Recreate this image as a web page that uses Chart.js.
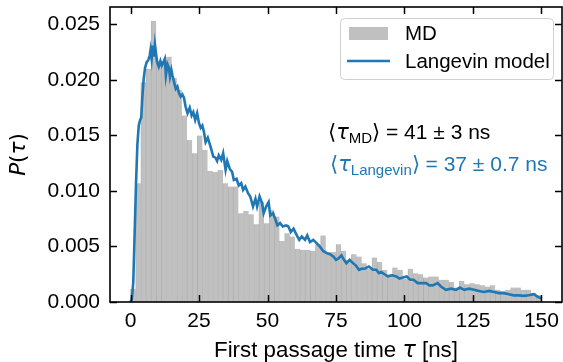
<!DOCTYPE html>
<html><head><meta charset="utf-8">
<script src="https://cdn.jsdelivr.net/npm/chart.js@4/dist/chart.umd.min.js"></script>
<style>html,body{margin:0;padding:0;background:#fff}#wrap{width:563px;height:362px;position:relative}</style>
</head><body><div id="wrap"><canvas id="c" width="563" height="362"></canvas></div>
<script>
// ---- data ----
const binCenters = [0.9375,2.8125,4.6875,6.5625,8.4375,10.3125,12.1875,14.0625,15.9375,17.8125,
19.6875,21.5625,23.4375,25.3125,27.1875,29.0625,30.9375,32.8125,34.6875,36.5625,
38.4375,40.3125,42.1875,44.0625,45.9375,47.8125,49.6875,51.5625,53.4375,55.3125,
57.1875,59.0625,60.9375,62.8125,64.6875,66.5625,68.4375,70.3125,72.1875,74.0625,
75.9375,77.8125,79.6875,81.5625,83.4375,85.3125,87.1875,89.0625,90.9375,92.8125,
94.6875,96.5625,98.4375,100.3125,102.1875,104.0625,105.9375,107.8125,109.6875,111.5625,
113.4375,115.3125,117.1875,119.0625,120.9375,122.8125,124.6875,126.5625,128.4375,130.3125,
132.1875,134.0625,135.9375,137.8125,139.6875,141.5625,143.4375,145.3125,147.1875,149.0625];
const mdValues = [0.0012,0.0107,0.0198,0.0210,0.0253,0.0217,0.0217,0.0221,0.0202,0.0191,
0.0168,0.0146,0.0134,0.0150,0.0137,0.0118,0.0117,0.0119,0.0107,0.0104,
0.0104,0.0080,0.0082,0.0079,0.0070,0.0090,0.0071,0.0083,0.0077,0.0055,
0.0062,0.0059,0.0048,0.0047,0.0047,0.0046,0.0052,0.0060,0.0045,0.0045,
0.0052,0.0046,0.0038,0.0043,0.0041,0.0035,0.0030,0.0040,0.0036,0.0029,
0.0025,0.0031,0.0029,0.0021,0.0030,0.0026,0.0025,0.0022,0.0023,0.0023,
0.0020,0.0020,0.0018,0.0013,0.0019,0.0016,0.0017,0.0016,0.0015,0.0014,
0.0015,0.0011,0.0010,0.0011,0.0013,0.0013,0.0011,0.0011,0.0008,0.0006];
const langevinTau = [0,0.5,1.0,1.5,2.0,2.5,3.0,3.5,3.9,4.3,4.8,5.3,5.9,6.5,7.0,7.3,7.7,8.1,8.5,8.9,9.3,9.7,
10.3,10.9,11.4,12.0,12.5,12.9,13.5,14.0,14.4,14.9,15.3,15.9,16.5,17.1,17.7,18.3,18.9,19.5,
20.1,20.8,21.6,22.3,22.9,23.6,24.3,25.0,25.6,26.2,26.8,27.4,28.2,29.2,30.2,31.0,31.6,32.2,33.1,33.8,
34.7,35.3,36.2,37.1,37.7,38.7,39.5,40.4,41.1,41.9,42.9,43.7,44.7,45.6,46.2,47.1,48.0,48.6,49.5,
50.4,51.0,52.0,52.8,53.6,54.6,55.6,56.8,57.6,58.5,59.5,60.7,61.6,62.5,63.7,64.5,65.5,66.7,67.9,
69.1,70.3,71.6,72.8,74.0,75.0,75.8,77.0,77.9,78.8,80.0,81.2,82.2,83.4,84.3,85.5,87.0,88.5,89.7,
90.7,91.5,92.7,93.9,95.5,97.0,98.2,99.4,100.8,102.1,103.3,104.8,106.6,107.9,109.1,110.3,112.1,
113.3,115.1,117.0,118.8,120.2,121.8,123.6,125.4,127.2,129.0,130.9,132.7,134.5,136.3,138.1,139.9,
141.7,143.5,145.4,147.2,148.4,150.0];
const langevinP = [0,0.0003,0.0018,0.0062,0.0107,0.0142,0.0159,0.0164,0.0166,0.0184,0.0201,0.0211,0.0216,0.0218,0.0222,0.0227,0.0219,0.0231,0.0221,0.0232,0.0224,0.0216,
0.0212,0.0217,0.0213,0.0216,0.0219,0.0204,0.0214,0.0211,0.0203,0.0209,0.0204,0.0198,0.0192,0.0194,0.0188,0.0185,0.0187,0.0184,
0.0176,0.0170,0.0175,0.0168,0.0171,0.0164,0.0170,0.0161,0.0157,0.0159,0.0153,0.0144,0.0148,0.0140,0.0131,0.0130,0.0127,0.0132,0.0128,0.0134,
0.0119,0.0127,0.0120,0.0117,0.0110,0.0111,0.0105,0.0107,0.0101,0.0104,0.0098,0.0095,0.0086,0.0093,0.0086,0.0095,0.0089,0.0080,0.0086,
0.0090,0.0078,0.0080,0.0075,0.0069,0.0071,0.0068,0.0069,0.0068,0.0063,0.0066,0.0060,0.0056,0.0059,0.0056,0.0060,0.0054,0.0056,0.0053,
0.0050,0.0046,0.0044,0.0043,0.0041,0.0038,0.0039,0.0042,0.0038,0.0035,0.0038,0.0035,0.0033,0.0029,0.0030,0.0030,0.0032,0.0029,0.0029,
0.0026,0.0027,0.0025,0.0023,0.0024,0.0023,0.0021,0.0022,0.0023,0.0020,0.0020,0.0017,0.0017,0.0017,0.0015,0.0015,0.0017,
0.0014,0.0011,0.0012,0.0011,0.0013,0.0011,0.0012,0.0011,0.0010,0.0009,0.0010,0.0009,0.0008,0.0008,0.0007,0.0006,
0.0006,0.00055,0.0006,0.0007,0.0005,0.0003];
const xTicks = [0,25,50,75,100,125,150];
const yTicks = [0,0.005,0.010,0.015,0.020,0.025];
const seriesLabels = ['MD','Langevin model'];
const meanMD = ['41','3'];
const meanLangevin = ['37','0.7'];

// ---- styling ----
const SANS = '"Liberation Sans", Arial, sans-serif';
const MATH = '"DejaVu Sans", sans-serif';
const BLUE = '#1f77b4';
const BARFILL = '#c0c0c0';
const FS = 21;

function segFont(s){ return (s.it?'italic ':'') + s.size + 'px ' + (s.fam||SANS); }
function drawRich(ctx, x, y, segs, color, align){
  let total = 0;
  segs.forEach(s => { ctx.font = segFont(s); s.w = ctx.measureText(s.t).width; total += s.w; });
  let cx = align === 'center' ? x - total/2 : x;
  ctx.fillStyle = color; ctx.textAlign = 'left'; ctx.textBaseline = 'alphabetic';
  segs.forEach(s => { ctx.font = segFont(s); ctx.fillText(s.t, cx, y + (s.dy||0)); cx += s.w; });
}

const decor = {
  id: 'decor',
  afterDraw(chart){
    const ctx = chart.ctx, a = chart.chartArea, xs = chart.scales.x, ys = chart.scales.y;
    ctx.save();
    // frame
    ctx.strokeStyle = '#000'; ctx.lineWidth = 1.6;
    ctx.strokeRect(a.left, a.top, a.right - a.left, a.bottom - a.top);
    // inward ticks on all sides
    ctx.lineWidth = 1.5; ctx.beginPath();
    xTicks.forEach(v => { const p = Math.round(xs.getPixelForValue(v)) + 0.5;
      ctx.moveTo(p, a.bottom); ctx.lineTo(p, a.bottom - 7);
      ctx.moveTo(p, a.top); ctx.lineTo(p, a.top + 7); });
    yTicks.forEach(v => { const p = Math.round(ys.getPixelForValue(v)) + 0.5;
      ctx.moveTo(a.left, p); ctx.lineTo(a.left + 7, p);
      ctx.moveTo(a.right, p); ctx.lineTo(a.right - 7, p); });
    ctx.stroke();

    // legend
    ctx.beginPath(); ctx.roundRect(340.5, 18.5, 213, 61, 4);
    ctx.fillStyle = 'rgba(255,255,255,0.85)'; ctx.fill();
    ctx.strokeStyle = '#d0d0d0'; ctx.lineWidth = 1; ctx.stroke();
    ctx.fillStyle = BARFILL; ctx.fillRect(349, 27, 39, 13);
    ctx.strokeStyle = BLUE; ctx.lineWidth = 2.5; ctx.beginPath();
    ctx.moveTo(347, 61); ctx.lineTo(390, 61); ctx.stroke();
    ctx.fillStyle = '#000'; ctx.font = '20.5px ' + SANS; ctx.textBaseline = 'middle'; ctx.textAlign = 'left';
    ctx.fillText(seriesLabels[0], 405, 34);
    ctx.fillText(seriesLabels[1], 405, 62);

    // annotations
    drawRich(ctx, 328, 139, [
      {t:'\u27E8', size:21, fam:MATH}, {t:'\u03C4', size:21, it:true, fam:MATH},
      {t:'MD', size:15, dy:4}, {t:'\u27E9 = ' + meanMD[0] + ' \u00B1 ' + meanMD[1] + ' ns', size:21}
    ], '#000', 'left');
    drawRich(ctx, 330, 171, [
      {t:'\u27E8', size:21, fam:MATH}, {t:'\u03C4', size:21, it:true, fam:MATH},
      {t:'Langevin', size:15, dy:4}, {t:'\u27E9 = ' + meanLangevin[0] + ' \u00B1 ' + meanLangevin[1] + ' ns', size:21}
    ], BLUE, 'left');

    // axis titles
    drawRich(ctx, (a.left + a.right)/2, 357, [
      {t:'First passage time ', size:22.3}, {t:'\u03C4', size:22.3, it:true, fam:MATH}, {t:' [ns]', size:22.3}
    ], '#000', 'center');
    ctx.save(); ctx.translate(25, (a.top + a.bottom)/2); ctx.rotate(-Math.PI/2);
    drawRich(ctx, 0, 0, [
      {t:'P', size:21.5, it:true, fam:MATH}, {t:'(', size:21.5, fam:MATH},
      {t:'\u03C4', size:21.5, it:true, fam:MATH}, {t:')', size:21.5, fam:MATH}
    ], '#000', 'center');
    ctx.restore();
    ctx.restore();
  }
};

new Chart(document.getElementById('c'), {
  type: 'bar',
  data: {
    datasets: [
      { type: 'line', label: seriesLabels[1], data: langevinTau.map((t,i)=>({x:t, y:langevinP[i]})),
        borderColor: BLUE, borderWidth: 2.6, pointRadius: 0, tension: 0, fill: false, order: 1 },
      { type: 'bar', label: seriesLabels[0], data: binCenters.map((c,i)=>({x:c, y:mdValues[i]})),
        backgroundColor: BARFILL, borderColor: 'rgba(120,120,120,0.55)',
        borderWidth: {left:1, right:0, top:0, bottom:0}, borderSkipped: false,
        barPercentage: 1, categoryPercentage: 1, grouped: false, order: 2 }
    ]
  },
  options: {
    responsive: false, devicePixelRatio: 1, animation: false,
    layout: { padding: { top: 7, right: 1, left: 0, bottom: 0 } },
    plugins: { legend: { display: false }, tooltip: { enabled: false } },
    scales: {
      x: { type: 'linear', min: -7.5, max: 157.5, offset: false,
        grid: { display: false, drawTicks: false }, border: { display: false },
        afterBuildTicks: s => { s.ticks = xTicks.map(v => ({value: v})); },
        afterFit: s => { s.height = 60; s.paddingLeft = 0; s.paddingRight = 0; },
        ticks: { color: '#000', font: { family: SANS, size: FS }, padding: 7, maxRotation: 0, autoSkip: false,
          callback: v => String(v) } },
      y: { type: 'linear', min: 0, max: 0.02657,
        grid: { display: false, drawTicks: false }, border: { display: false },
        afterBuildTicks: s => { s.ticks = yTicks.map(v => ({value: v})); },
        afterFit: s => { s.width = 110; s.paddingTop = 0; s.paddingBottom = 0; },
        ticks: { color: '#000', font: { family: SANS, size: FS }, padding: 10,
          callback: v => Number(v).toFixed(3) } }
    }
  },
  plugins: [decor]
});
</script></body></html>
